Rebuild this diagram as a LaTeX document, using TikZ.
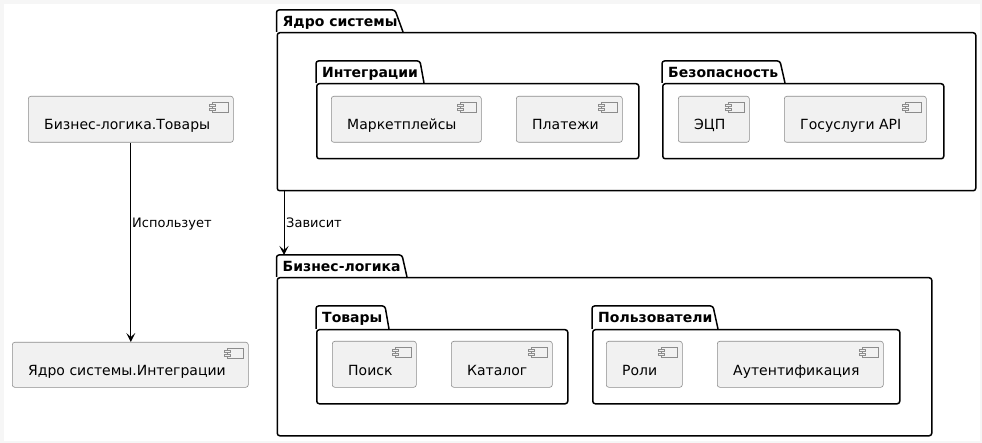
\documentclass[tikz,border=0pt]{standalone}
\usepackage{fontspec}
\setmainfont{DejaVu Sans}
\usetikzlibrary{arrows.meta}

\definecolor{compfill}{HTML}{F1F1F1}
\definecolor{compline}{HTML}{8C8C8C}
\definecolor{frame}{HTML}{F6F6F6}

\tikzset{
  pkgline/.style={draw=black, line width=1.5pt, rounded corners=2.5pt},
  pkgbody/.style={pkgline, rectangle, inner sep=0pt, anchor=north west},
  comp/.style={draw=compline, fill=compfill, line width=0.6pt, rounded corners=2.5pt,
               rectangle, inner sep=0pt, anchor=north west},
  icon/.style={draw=compline, fill=compfill, line width=0.6pt},
  ctext/.style={font=\fontsize{14}{16}\selectfont, inner sep=0pt, anchor=base west},
  ptitle/.style={font=\fontsize{14}{16}\selectfont\bfseries, inner sep=0pt, anchor=base west},
  elabel/.style={font=\fontsize{13}{15}\selectfont, inner sep=0pt, anchor=base west},
  link/.style={draw=black, line width=1pt, -{Stealth[length=9pt,width=9pt,inset=4pt]}}
}

% component box: name, x1, y1, x2, y2, text
\newcommand\umlcomp[6]{%
  \node[comp, minimum width={(#4-#2)*1pt}, minimum height={(#5-#3)*1pt}] (#1) at (#2,#3) {};
  \draw[icon] (#4-21,#3+6) rectangle (#4-5,#3+16);
  \draw[icon] (#4-24,#3+8) rectangle (#4-18,#3+10.5);
  \draw[icon] (#4-24,#3+12) rectangle (#4-18,#3+14.5);
  \node[ctext] (#1-label) at (#2+16,#5-12) {#6};
}

% package: name, left, right, tab top, body top, bottom, tab edge top, tab edge bottom, title
\newcommand\umlpkg[9]{%
  \draw[pkgline] (#2,#5) |- (#7,#4) -- (#8,#5);
  \node[pkgbody, minimum width={(#3-#2)*1pt}, minimum height={(#6-#5)*1pt}] (#1) at (#2,#5) {};
  \node[ptitle] (#1-title) at (#2+6,#4+16.5) {#9};
}

\begin{document}
\begin{tikzpicture}[x=1pt, y=-1pt]
  % page
  \fill[frame] (0,0) rectangle (982,443);
  \fill[white] (4,4) rectangle (980,441);
  \useasboundingbox (0,0) rectangle (982,443);

  % top-level components
  \umlcomp{bt}{28}{96}{233}{142}{Бизнес-логика.Товары}
  \umlcomp{yi}{12}{342}{248}{387}{Ядро системы.Интеграции}

  % core package
  \umlpkg{core}{276.5}{975}{10}{32}{190}{395}{403}{Ядро системы}
  \umlpkg{integr}{316}{638}{61}{83}{158}{420}{424}{Интеграции}
  \umlcomp{mp}{331}{96}{481}{142}{Маркетплейсы}
  \umlcomp{pay}{516}{96}{622}{142}{Платежи}
  \umlpkg{sec}{662}{943}{61}{83}{158}{780}{785}{Безопасность}
  \umlcomp{sig}{678}{96}{749}{142}{ЭЦП}
  \umlcomp{gos}{784}{96}{926}{142}{Госуслуги API}

  % business logic package
  \umlpkg{biz}{276.5}{931}{255}{277}{435}{402}{407}{Бизнес-логика}
  \umlpkg{goods}{316}{567}{306}{329}{403}{385}{389}{Товары}
  \umlcomp{search}{332}{341}{416}{387}{Поиск}
  \umlcomp{cat}{451}{341}{552}{387}{Каталог}
  \umlpkg{users}{592}{899}{306}{329}{403}{713}{718}{Пользователи}
  \umlcomp{roles}{606}{341}{682}{387}{Роли}
  \umlcomp{auth}{717}{341}{883}{387}{Аутентификация}

  % dependencies
  \draw[link] (bt.south) -- (bt.south |- yi.north);
  \node[elabel] (uses) at (132,228) {Использует};

  \coordinate (coreFoot) at (284,190);
  \coordinate (bizHead) at (284,255);
  \draw[link] (coreFoot) -- (bizHead);
  \node[elabel] (depends) at (286,227.5) {Зависит};
\end{tikzpicture}
\end{document}
